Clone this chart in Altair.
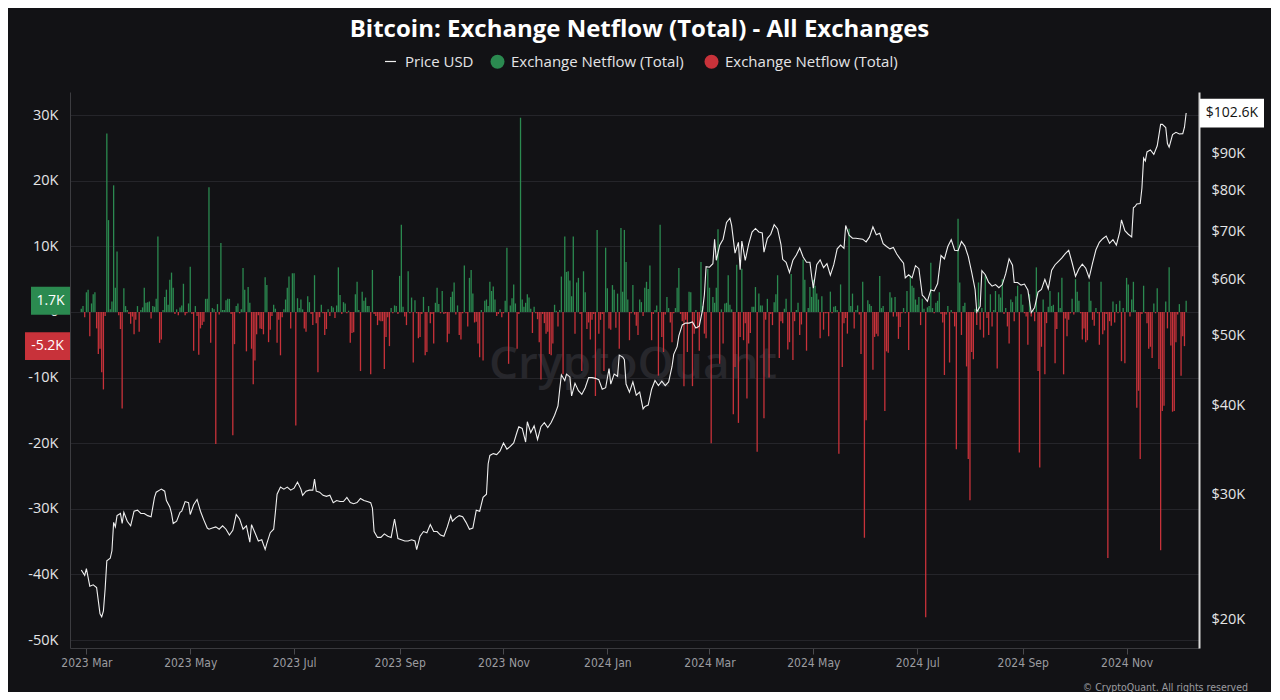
import altair as alt
import pandas as pd

TITLE = "Bitcoin: Exchange Netflow (Total) - All Exchanges"

# Daily exchange netflow (thousands of BTC), starting 2023-02-26
flow_start = "2023-02-26"
netflow_k = [
    0.5, 0.9, -0.8, 3.0, 3.4, -3.7, 1.3, 2.7, 3.0, -2.5,
    -6.4, -5.6, -9.2, -11.8, -0.6, 27.2, 14.0, 0.4, 1.6, 19.3,
    3.7, 9.2, -0.5, -2.6, -14.7, 3.6, 0.9, 0.3, -0.3, -1.8,
    -0.7, -3.4, -1.2, 0.9, -3.0, 0.3, 0.7, 3.7, 1.4, 1.5,
    1.6, -1.0, 0.9, 0.8, 2.0, 11.5, -4.7, -4.2, 0.3, 2.3,
    3.4, 1.1, 4.9, 6.0, 3.7, -0.3, 0.4, -0.5, 0.7, 1.0,
    4.3, -0.5, -0.2, 1.3, 6.9, -0.3, -5.9, 0.9, -0.6, -6.5,
    -2.5, -2.0, -1.5, 2.0, 2.0, 19.0, -4.7, 0.6, 0.4, -20.1,
    1.2, -0.4, 10.5, 0.3,
    0.3, 1.8, 2.0, 2.0, -0.3, -18.8, -4.9, 0.9, 1.3, -0.2,
    0.4, 6.7, 3.4, -6.0, 3.8, 1.4, -5.6, -11.0, -7.4, -3.4,
    -0.5, -2.5, -2.6, -3.4, 5.3, 4.1, -4.6, -2.7, -0.6, 1.1,
    0.5, -4.7, -1.2, -6.6, -0.8, 0.4, 1.9, 3.7, 5.4, -2.5,
    5.9, 5.9, -17.3, 2.1, 0.6, 1.9, 0.4, -2.5, -3.0, 2.4,
    1.5, -0.3, -2.0, 5.6, -1.7, -9.2, -0.8, 1.1, -0.2, -3.5,
    -2.6, 0.4, -0.6, 0.9, 0.7, -0.9, 1.0, 6.8, 2.6, -0.3,
    1.5, 1.3, -0.2, 0.2, -4.7, -3.2, -3.1, 2.7, 4.6, 0.3,
    -9.0, 3.1,
    1.7, 2.2, 0.9, 0.9, -9.5, 6.4, -0.3, -0.6, -2.0, -1.3,
    -1.4, -1.4, -8.7, -3.8, -0.8, -5.2, 0.6, -0.2, 1.0, 0.9,
    -0.3, 5.5, 13.3, 0.8, -0.7, -2.0, 6.2, -0.2, 2.2, -7.7,
    1.8, -0.2, -4.0, -3.8, -0.3, 2.3, -6.6, -6.1, 0.9, -1.7,
    -0.3, -4.8, 1.4, 3.7, 1.2, -0.2, 3.2, -0.3, -0.2, -4.6,
    -3.3, 2.3, 3.1, 4.5, -0.4, 1.0, -3.5, -4.2, -0.2, 7.1,
    -0.2, -2.2, 5.2, 6.4, 2.8, -1.6, -1.5, -4.8, -6.9, 0.3,
    -7.4, 1.7, 1.9, 0.9, 4.6, 3.2, 3.9, 1.9, -0.6, -0.3,
    0.4,
    -0.8, -0.2, 1.7, 9.8, -7.9, 1.0, 2.1, 4.2, 1.3, -5.6,
    -0.3, 29.6, 1.9, 0.8, 1.4, 2.7, 2.2, 0.5, -3.2, 0.8,
    -0.2, -1.1, -4.6, -10.3, -0.3, -1.7, -3.3, -3.0, -6.4, -6.6,
    -4.8, 1.1, 0.2, -2.2, 0.3, 5.4, -9.5, 11.5, 6.1, 6.2,
    4.8, 2.4, 11.5, -3.3, 4.5, 5.2, -0.3, -9.0, 6.2, 3.0,
    -2.6, -1.6, -4.2, -1.2, -0.3, -12.8, 12.5, -3.3, -1.2, -0.3,
    -9.0, 9.8, 3.6, -2.5, -2.7, 4.1, 3.4, -2.4, 2.8, -5.6,
    12.8, 3.1, 12.5, 7.6, 1.9, -4.3, -0.2, 4.1, -0.4, -2.1,
    -3.5, 1.9,
    1.5, -0.6, 3.7, 4.6, 3.5, 7.1, -4.3, -0.3, 0.3, 1.0,
    -9.7, 13.3, -3.8, -6.1, -0.4, 2.3, 0.6, -1.6, -4.6, -0.2,
    0.6, 3.7, 6.7, -0.3, -1.4, -11.3, -1.2, -6.1, 3.1, 3.0,
    -11.3, -3.3, 0.3, -2.5, -5.9, 7.6, 0.9, -3.3, -4.0, 6.6,
    3.7, -20.0, 2.3, 1.4, 3.7, 12.6, -7.9, 0.4, -4.8, 1.3,
    1.4, 5.6, 1.1, 0.4, -15.6, -8.4, 7.2, -16.9, -3.8, 6.6,
    -4.3, -1.7, -13.2, -4.8, -3.2, 0.8, 0.8, 3.8, -21.3, 2.8,
    1.0, 1.0, -16.2, -1.2, 2.0, -10.0, -0.3, -2.0, 1.5, 2.7,
    5.6,
    -7.0, -1.4, -1.7, 0.5, 2.0, -5.7, -4.6, 5.8, -7.3, -1.4,
    0.3, 1.4, -3.5, -1.9, 8.0, 4.9, -5.9, 0.6, 3.8, 2.3,
    4.9, 4.0, 2.8, 1.9, -4.0, 2.4, -2.7, -0.2, -0.2, -3.7,
    3.1, -0.2, 0.8, 0.9, 0.3, -21.6, 4.2, -8.4, -1.7, -0.9,
    -3.3, 12.7, 0.9, 2.8, -2.5, 0.3, 1.0, -0.4, -6.4, 4.6,
    -34.4, -16.5, 1.8, 1.2, 0.9, -8.8, -3.8, -3.3, -3.7, 5.5,
    0.6, 0.9, -15.1, -6.0, -6.2, 3.0, 2.2, -0.7, 2.3, -0.7,
    -4.1, -2.3, -0.2, 0.6, -0.2, 3.2, -5.8, 5.5, 4.0, 3.7,
    1.9, 1.1,
    2.3, -2.0, 2.0, 0.5, -46.5, 0.7, 0.9, 7.5, 0.6, -0.2,
    1.4, 1.7, 3.0, -0.3, -1.6, -9.6, -0.4, 0.9, -7.7, 0.3,
    -0.2, -2.2, -20.9, 14.2, 4.5, -3.5, 0.9, 1.4, -8.3, -22.4,
    -28.7, -6.1, -7.2, 0.5, -2.0, 4.5, -2.7, 0.6, -3.9, 5.6,
    -0.9, -3.5, 2.7, -2.2, 0.3, 3.2, -8.6, 2.7, 2.2, 5.0,
    -0.3, 0.6, -2.2, -4.8, 1.9, 1.5, -1.4, 2.4, 4.0, -21.4,
    2.7, 1.1, -0.2, -0.7, -5.0, 2.7, -0.7, 0.3, -1.4, 6.8,
    -9.0, -23.7, -5.3, 1.9, -9.5, -1.7, 0.8, 3.2, 0.9, 1.1,
    -7.8,
    -2.6, 3.0, 0.6, 5.2, -9.5, -1.0, -3.7, -1.2, -0.2, 2.0,
    -0.4, 5.0, 3.1, 1.7, -0.2, -4.2, -2.5, -4.6, -4.3, 4.6,
    1.7, -1.2, -2.1, 0.6, -0.2, -5.0, 4.6, -3.4, -2.8, -0.3,
    -37.5, -1.4, -2.1, 1.6, -1.6, 1.2, -0.2, 1.7, -7.5, 0.6,
    -7.8, 5.2, 4.2, -0.7, 1.9, 4.6, 0.3, -14.6, -12.0, -22.4,
    -0.3, 4.0, -0.2, -1.7, -5.6, -5.3, -7.0, 1.3, -0.2, 3.6,
    -8.7, -36.3, -15.1, -14.3, 1.6, -2.5, 6.8, -5.1, -15.2, -15.1,
    -4.6, -0.4, 1.2, -9.7, -3.7, -5.2, 1.7,
]

# BTC price (thousands of USD)
price_dates_2023 = [
    "02-26", "02-28",
    "03-01", "03-03", "03-05", "03-07", "03-09", "03-10", "03-11", "03-12", "03-13", "03-15", "03-16",
    "03-17", "03-18", "03-19", "03-21", "03-22", "03-23", "03-25", "03-27", "03-29", "03-31",
    "04-02", "04-04", "04-06", "04-08", "04-10", "04-11", "04-13", "04-14", "04-16", "04-17", "04-19",
    "04-20", "04-21", "04-23", "04-25", "04-26", "04-28", "04-30",
    "05-01", "05-03", "05-05", "05-07", "05-09", "05-11", "05-12", "05-14", "05-16", "05-18", "05-20",
    "05-22", "05-24", "05-26", "05-28", "05-30",
    "06-01", "06-03", "06-05", "06-06", "06-08", "06-10", "06-12", "06-14", "06-15", "06-17", "06-19",
    "06-20", "06-21", "06-23", "06-25", "06-27", "06-29",
    "07-01", "07-03", "07-05", "07-06", "07-08", "07-10", "07-12", "07-13", "07-14", "07-16", "07-18",
    "07-20", "07-22", "07-24", "07-26", "07-28", "07-30",
    "08-01", "08-03", "08-05", "08-07", "08-09", "08-11", "08-13", "08-15", "08-16", "08-17", "08-19",
    "08-21", "08-23", "08-25", "08-27", "08-29", "08-31",
    "09-02", "09-04", "09-06", "09-08", "09-10", "09-11", "09-13", "09-15", "09-17", "09-19", "09-21",
    "09-23", "09-25", "09-27", "09-29",
    "10-01", "10-02", "10-04", "10-06", "10-08", "10-10", "10-12", "10-14", "10-16", "10-18", "10-20",
    "10-22", "10-23", "10-24", "10-26", "10-28", "10-30",
    "11-01", "11-03", "11-05", "11-07", "11-09", "11-10", "11-12", "11-14", "11-15", "11-17", "11-19",
    "11-21", "11-23", "11-25", "11-27", "11-29",
    "12-01", "12-03", "12-04", "12-05", "12-07", "12-08", "12-10", "12-11", "12-13", "12-15", "12-17",
    "12-19", "12-21", "12-23", "12-25", "12-27", "12-29", "12-31",
]
price_k_2023 = [
    23.5, 23.1,
    23.6, 22.3, 22.4, 22.2, 20.4, 20.2, 20.6, 22.1, 24.2, 24.4, 25.0,
    27.4, 27.0, 28.0, 28.2, 27.3, 28.3, 27.5, 27.1, 28.4, 28.5,
    28.2, 28.2, 28.0, 27.9, 29.7, 30.2, 30.4, 30.5, 30.3, 29.4, 28.8,
    28.2, 27.3, 27.5, 28.3, 28.4, 29.3, 29.2,
    28.1, 29.0, 29.5, 28.4, 27.6, 26.9, 26.8, 26.9, 27.0, 26.8, 27.1,
    26.8, 26.3, 26.7, 28.1, 27.7,
    26.8, 27.1, 25.7, 27.2, 26.5, 25.8, 25.9, 25.1, 25.6, 26.5, 26.8,
    28.3, 30.0, 30.7, 30.5, 30.7, 30.4,
    30.6, 31.2, 30.5, 29.9, 30.3, 30.4, 30.4, 31.5, 30.3, 30.2, 29.9,
    29.8, 29.9, 29.2, 29.4, 29.3, 29.3,
    29.7, 29.2, 29.1, 29.2, 29.6, 29.4, 29.3, 29.2, 28.7, 26.6, 26.1,
    26.1, 26.4, 26.2, 26.1, 27.7, 26.0,
    25.9, 25.8, 25.8, 25.9, 25.8, 25.1, 26.2, 26.6, 26.5, 27.2, 26.6,
    26.6, 26.3, 26.2, 27.0,
    28.0, 27.5, 27.8, 28.0, 27.9, 27.4, 26.8, 26.9, 28.5, 28.4, 29.7,
    30.0, 33.1, 34.0, 34.2, 34.1, 34.5,
    35.4, 34.7, 35.0, 35.4, 36.7, 37.3, 37.1, 35.5, 37.9, 36.6, 37.4,
    35.8, 37.3, 37.8, 37.2, 37.8,
    38.7, 39.9, 42.0, 44.1, 43.3, 44.2, 43.8, 41.2, 42.9, 41.9, 41.4,
    42.3, 43.7, 43.7, 43.6, 43.4, 42.1, 42.3,
]
price_dates_2024 = [
    "01-02", "01-03", "01-05", "01-07", "01-08", "01-10", "01-11", "01-12", "01-14", "01-16", "01-18",
    "01-20", "01-22", "01-23", "01-25", "01-27", "01-29", "01-31",
    "02-02", "02-04", "02-06", "02-08", "02-09", "02-11", "02-12", "02-14", "02-16", "02-18", "02-20",
    "02-22", "02-24", "02-26", "02-27", "02-28",
    "03-01", "03-03", "03-04", "03-05", "03-07", "03-09", "03-11", "03-13", "03-14", "03-16", "03-18",
    "03-19", "03-20", "03-22", "03-24", "03-26", "03-28", "03-30",
    "04-01", "04-02", "04-04", "04-06", "04-08", "04-10", "04-12", "04-13", "04-15", "04-17", "04-19",
    "04-21", "04-23", "04-25", "04-27", "04-29", "04-30",
    "05-01", "05-03", "05-05", "05-07", "05-09", "05-11", "05-13", "05-15", "05-17", "05-19", "05-20",
    "05-22", "05-24", "05-26", "05-28", "05-30",
    "06-01", "06-03", "06-05", "06-07", "06-09", "06-11", "06-13", "06-15", "06-17", "06-19", "06-21",
    "06-23", "06-24", "06-26", "06-28", "06-30",
    "07-02", "07-04", "07-05", "07-07", "07-09", "07-11", "07-13", "07-15", "07-17", "07-19", "07-21",
    "07-23", "07-25", "07-27", "07-29", "07-31",
    "08-02", "08-04", "08-05", "08-07", "08-08", "08-10", "08-12", "08-14", "08-16", "08-18", "08-20",
    "08-22", "08-24", "08-26", "08-27", "08-29", "08-31",
    "09-02", "09-04", "09-06", "09-08", "09-10", "09-12", "09-14", "09-16", "09-18", "09-20", "09-22",
    "09-24", "09-26", "09-28", "09-30",
    "10-02", "10-04", "10-06", "10-08", "10-10", "10-12", "10-14", "10-16", "10-18", "10-20", "10-22",
    "10-24", "10-26", "10-28", "10-29", "10-31",
    "11-02", "11-04", "11-05", "11-06", "11-07", "11-09", "11-10", "11-11", "11-12", "11-13", "11-15",
    "11-17", "11-19", "11-21", "11-22", "11-24", "11-25", "11-26", "11-28", "11-30",
    "12-02", "12-04", "12-05", "12-06",
]
price_k_2024 = [
    45.0, 42.8, 44.2, 43.9, 47.0, 46.7, 46.3, 42.8, 41.7, 43.1, 41.3,
    41.7, 39.5, 39.8, 40.0, 42.1, 43.3, 42.6,
    43.2, 42.6, 43.1, 45.3, 47.1, 48.3, 50.0, 51.8, 52.1, 52.1, 52.3,
    51.3, 51.6, 54.5, 57.1, 62.5,
    62.4, 63.1, 68.3, 63.8, 67.0, 68.3, 72.1, 73.1, 71.4, 65.3, 67.6,
    61.9, 67.9, 63.8, 67.2, 69.9, 70.7, 69.9,
    69.7, 65.5, 68.5, 69.4, 71.6, 70.6, 67.1, 64.0, 63.4, 61.3, 63.8,
    64.9, 66.4, 64.5, 63.4, 63.4, 60.6,
    58.3, 62.9, 63.9, 62.3, 63.1, 60.8, 62.9, 66.2, 67.0, 66.3, 71.4,
    69.2, 68.5, 68.5, 68.4, 68.3,
    67.7, 68.8, 71.1, 69.3, 69.6, 67.3, 66.7, 66.2, 66.5, 65.1, 64.1,
    63.2, 60.3, 60.9, 60.3, 62.7,
    62.1, 57.0, 56.7, 55.9, 58.0, 57.8, 59.2, 64.8, 64.1, 66.7, 68.2,
    65.9, 65.8, 67.8, 66.8, 64.6,
    61.4, 58.1, 54.0, 55.0, 61.7, 60.9, 59.4, 58.7, 59.0, 58.4, 59.0,
    61.1, 64.1, 62.8, 59.4, 59.4, 58.9,
    59.1, 58.0, 53.9, 54.8, 57.6, 58.1, 60.0, 58.2, 61.8, 62.9, 63.6,
    64.3, 65.2, 65.9, 63.3,
    60.6, 62.1, 63.0, 62.2, 60.3, 63.2, 66.0, 67.6, 68.4, 69.0, 67.4,
    68.2, 67.0, 69.9, 72.7, 70.2,
    69.4, 68.8, 75.6, 75.9, 76.5, 76.6, 80.5, 88.7, 87.9, 90.5, 91.1,
    89.8, 92.3, 98.9, 98.9, 97.9, 93.0, 91.9, 95.7, 96.4,
    95.9, 96.0, 98.0, 102.6,
]

assert len(price_dates_2023) == len(price_k_2023), (len(price_dates_2023), len(price_k_2023))
assert len(price_dates_2024) == len(price_k_2024), (len(price_dates_2024), len(price_k_2024))

net_ticks = [-50000, -40000, -30000, -20000, -10000, 0, 10000, 20000, 30000]
price_ticks = [20000, 30000, 40000, 50000, 60000, 70000, 80000, 90000]
month_ticks = [(2023, 3), (2023, 5), (2023, 7), (2023, 9), (2023, 11),
               (2024, 1), (2024, 3), (2024, 5), (2024, 7), (2024, 9), (2024, 11)]

# ---------------- data frames ----------------
flow_dates = pd.date_range(flow_start, periods=len(netflow_k), freq="D").strftime("%Y-%m-%d")
flow_df = pd.DataFrame({
    "date": list(flow_dates),
    "netflow": [round(v * 1000) for v in netflow_k],
    "sign": ["pos" if v >= 0 else "neg" for v in netflow_k],
})
all_price = price_k_2023 + price_k_2024
price_df = pd.DataFrame({
    "date": ["2023-" + d for d in price_dates_2023] + ["2024-" + d for d in price_dates_2024],
    "price": [v * 1000 for v in all_price],
    "series": ["Price USD"] * len(all_price),
})

last_pos = next(v for v in reversed(netflow_k) if v > 0)
last_neg = next(v for v in reversed(netflow_k) if v < 0)
last_price = all_price[-1]
pos_tag = pd.DataFrame({"netflow": [last_pos * 1000], "label": [f"{last_pos:.1f}K"]})
neg_tag = pd.DataFrame({"netflow": [last_neg * 1000], "label": [f"{last_neg:.1f}K"]})
price_tag = pd.DataFrame({"price": [last_price * 1000], "label": [f"${last_price:.1f}K"]})

# ---------------- styling ----------------
BG = "#121215"
GREEN = "#2b8a50"
RED = "#c8323a"
FONT = "Open Sans"
NARROW = "Liberation Sans Narrow, DejaVu Sans Condensed, Open Sans"
LABEL = "#e4e4e6"

x_scale = alt.Scale(
    type="utc",
    domain=[alt.DateTime(year=2023, month=2, date=22, hours=7, minutes=19, utc=True),
            alt.DateTime(year=2024, month=12, date=10, hours=14, minutes=24, utc=True)],
)
x_axis = alt.Axis(
    values=[alt.DateTime(year=y, month=m, date=1, utc=True) for (y, m) in month_ticks],
    format="%Y %b", title=None, grid=False,
    labelColor="#9c9ca0", labelFont=NARROW, labelFontSize=12, labelPadding=3,
    tickColor="#4a4a4e", tickSize=6, domainColor="#3a3a3e",
    labelFlush=False, labelOverlap=False,
)
x_enc = alt.X("date:T", scale=x_scale, axis=x_axis)

net_scale = alt.Scale(domain=[-51200, 33520], nice=False, zero=False)
net_axis = alt.Axis(
    values=net_ticks, title=None, orient="left",
    labelExpr="datum.value == 0 ? '0' : (datum.value < 0 ? '-' : '') + abs(datum.value) / 1000 + 'K'",
    grid=True, gridColor="#25252a", gridWidth=1,
    domain=True, domainColor="#3c3c40", ticks=False,
    labelColor=LABEL, labelFont=FONT, labelFontSize=14.5, labelPadding=12,
)
y_net = alt.Y("netflow:Q", scale=net_scale, axis=net_axis)

price_scale = alt.Scale(type="log", domain=[18270, 109800], nice=False)
price_axis = alt.Axis(
    values=price_ticks, title=None, orient="right",
    labelExpr="'$' + datum.value / 1000 + 'K'",
    grid=False, domain=True, domainColor="#d8d8d8", domainWidth=2, ticks=False,
    labelColor=LABEL, labelFont=FONT, labelFontSize=14.5, labelPadding=12,
)
y_price = alt.Y("price:Q", scale=price_scale, axis=price_axis)

# ---------------- netflow group ----------------
watermark = alt.Chart(pd.DataFrame({"t": ["CryptoQuant"]})).mark_text(
    font=FONT, fontSize=46, fontWeight=600, color="#27272c"
).encode(x=alt.value(563), y=alt.value(273), text="t:N")

bars = alt.Chart(flow_df).mark_bar(size=1.3).encode(
    x=x_enc,
    y=y_net,
    y2=alt.datum(0),
    color=alt.Color(
        "sign:N",
        scale=alt.Scale(domain=["pos", "neg"], range=[GREEN, RED]),
        legend=alt.Legend(
            orient="none", legendX=420, legendY=-38, direction="horizontal", title=None,
            labelExpr="'Exchange Netflow (Total)'", symbolType="circle", symbolSize=196,
            symbolStrokeWidth=0, symbolOpacity=1, labelLimit=400,
            labelFont=FONT, labelFontSize=15, labelColor=LABEL,
            columnPadding=20, labelOffset=6, padding=0,
        ),
    ),
)

pos_box = alt.Chart(pos_tag).mark_point(
    shape="M-1,-0.72L1,-0.72L1,0.72L-1,0.72Z", size=39 * 39, filled=True,
    color=GREEN, opacity=1,
).encode(x=alt.value(-19.5), y=y_net)
pos_text = alt.Chart(pos_tag).mark_text(
    font=FONT, fontSize=14, color="#ffffff"
).encode(x=alt.value(-19.5), y=y_net, text="label:N")

neg_box = alt.Chart(neg_tag).mark_point(
    shape="M-1,-0.62L1,-0.62L1,0.62L-1,0.62Z", size=45 * 45, filled=True,
    color=RED, opacity=1,
).encode(x=alt.value(-22.5), y=y_net)
neg_text = alt.Chart(neg_tag).mark_text(
    font=FONT, fontSize=14, color="#ffffff"
).encode(x=alt.value(-22.5), y=y_net, text="label:N")

copyright_txt = alt.Chart(pd.DataFrame({"t": ["\u00a9 CryptoQuant. All rights reserved"]})).mark_text(
    font=NARROW, fontSize=10.5, color="#9c9ca0", align="right"
).encode(x=alt.value(1178), y=alt.value(596), text="t:N")

net_group = alt.layer(watermark, bars, pos_box, pos_text, neg_box, neg_text, copyright_txt)

# ---------------- price group ----------------
line = alt.Chart(price_df).mark_line(strokeWidth=1.1).encode(
    x=x_enc,
    y=y_price,
    color=alt.Color(
        "series:N",
        scale=alt.Scale(domain=["Price USD"], range=["#f0f0f0"]),
        legend=alt.Legend(
            orient="none", legendX=313, legendY=-38, title=None,
            symbolType="stroke", symbolSize=121, symbolStrokeWidth=1.2, labelLimit=300,
            labelFont=FONT, labelFontSize=15, labelColor=LABEL, labelOffset=7, padding=0,
        ),
    ),
)
p_box = alt.Chart(price_tag).mark_point(
    shape="M-1,-0.45L1,-0.45L1,0.45L-1,0.45Z", size=64 * 64, filled=True,
    color="#ffffff", opacity=1,
).encode(x=alt.value(1162), y=y_price)
p_text = alt.Chart(price_tag).mark_text(
    font=FONT, fontSize=14, color="#111111"
).encode(x=alt.value(1162), y=y_price, text="label:N")

price_group = alt.layer(line, p_box, p_text)

chart = alt.layer(net_group, price_group).resolve_scale(
    y="independent", color="independent"
).properties(
    width=1129,
    height=556,
    background=BG,
    padding={"left": 62, "top": 84, "right": 72, "bottom": 44},
    autosize=alt.AutoSizeParams(type="none"),
    title=alt.TitleParams(
        text=TITLE, font=FONT, fontSize=24, fontWeight="bold", color="#ffffff",
        anchor="middle", frame="group", offset=0, dy=7, baseline="alphabetic", dx=5,
    ),
).configure_view(stroke=None)

chart.save("out.html", embed_options={"renderer": "svg", "actions": False})
